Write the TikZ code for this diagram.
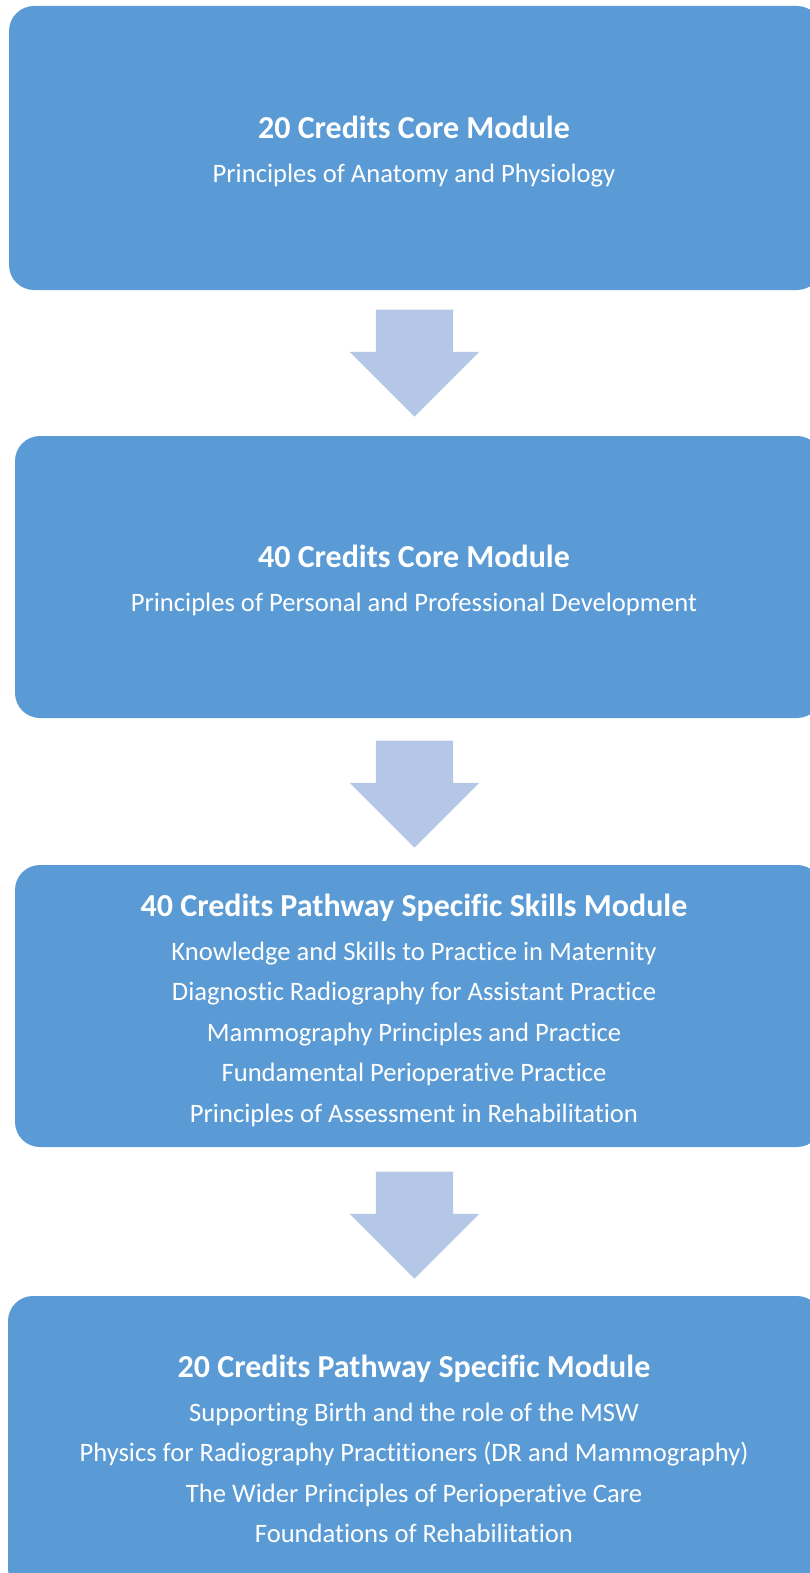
\documentclass[tikz,border=0pt]{standalone}
\usepackage{fontspec}
\setmainfont[Ligatures=NoCommon]{Carlito}
\usetikzlibrary{positioning,shapes.arrows}
\definecolor{modblue}{HTML}{5B9BD5}
\definecolor{arrblue}{HTML}{B4C7E7}
\tikzset{modbox/.style={draw=none, fill=modblue, rounded corners=25pt, inner sep=0pt}}
\tikzset{modtext/.style={text=white, align=center, inner sep=0pt, font=\fontsize{26.6}{40.5}\selectfont}}
\tikzset{downarr/.style={single arrow, shape border rotate=270, fill=arrblue, draw=none,
    minimum height=107pt, minimum width=129pt, single arrow head extend=26pt,
    inner xsep=38.5pt, inner ysep=0pt, anchor=tip}}
\newcommand{\modtitle}[1]{{\fontsize{32}{40.5}\selectfont\bfseries #1}\\[3.5pt]}
\begin{document}
\begin{tikzpicture}[x=1pt, y=-1pt]
  \clip (0,0) rectangle (810,1573);
  % module boxes
  \node[modbox, minimum width=813pt, minimum height=284pt] (core1) at (415.5,148) {};
  \node[modbox, minimum width=807pt, minimum height=282pt] (core2) at (418.5,577) {};
  \node[modbox, minimum width=807pt, minimum height=282pt] (skills) at (418.5,1006) {};
  \node[modbox, minimum width=814pt, minimum height=298pt] (pathway) at (415,1445) {};
  % module texts
  \node[modtext] (core1txt) at ([xshift=-1.5pt, yshift=-3.5pt]core1.center)
    {\modtitle{20 Credits Core Module}Principles of Anatomy and Physiology};
  \node[modtext] (core2txt) at ([xshift=-4.5pt, yshift=-3.5pt]core2.center)
    {\modtitle{40 Credits Core Module}Principles of Personal and Professional Development};
  \node[modtext] (skillstxt) at ([xshift=-4.5pt, yshift=-4pt]skills.center)
    {\modtitle{40 Credits Pathway Specific Skills Module}Knowledge and Skills to Practice in Maternity\\
     Diagnostic Radiography for Assistant Practice\\
     Mammography Principles and Practice\\
     Fundamental Perioperative Practice\\
     Principles of Assessment in Rehabilitation};
  \node[modtext] (pathwaytxt) at ([xshift=-1pt, yshift=-4pt]pathway.center)
    {\modtitle{20 Credits Pathway Specific Module}Supporting Birth and the role of the MSW\\
     Physics for Radiography Practitioners (DR and Mammography)\\
     The Wider Principles of Perioperative Care\\
     Foundations of Rehabilitation};
  % arrows between modules
  \node[downarr] (a1) at ([yshift=19pt]core2.north -| 414.5,0) {};
  \node[downarr] (a2) at ([yshift=17pt]skills.north -| 414.5,0) {};
  \node[downarr] (a3) at ([yshift=17pt]pathway.north -| 414.5,0) {};
\end{tikzpicture}
\end{document}
